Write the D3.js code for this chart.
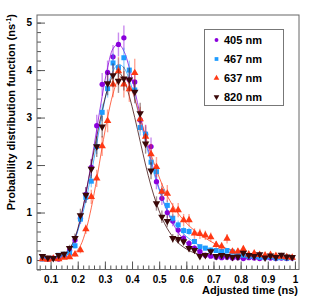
<!DOCTYPE html>
<meta charset="utf-8">
<script src="https://d3js.org/d3.v7.min.js"></script>
<style>
  body { margin: 0; background: white; }
  svg { font-family: "Liberation Sans", Arial, Helvetica, sans-serif; font-weight: bold; }
  .tick text { font-size: 10px; font-weight: bold; fill: black; }
  .tick line { stroke: #555; }
</style>
<div id="chart"></div>
<script>

// bin centres (ns)
var timeNs = [0.07,0.09,0.11,0.13,0.15,0.17,0.19,0.21,0.23,0.25,0.27,0.29,0.31,0.33,0.35,0.37,0.39,0.41,0.43,0.45,
  0.47,0.49,0.51,0.53,0.55,0.57,0.59,0.61,0.63,0.65,0.67,0.69,0.71,0.73,0.75,0.77,0.79,0.81,0.83,0.85,
  0.87,0.89,0.91,0.93,0.95,0.97,0.99];

var labels = ["405 nm", "467 nm", "637 nm", "820 nm"];

// measured points
var d405 = [0.03,0.02,0.04,0.02,0.08,0.20,0.42,0.88,1.38,1.95,2.83,3.70,3.95,4.28,4.54,4.68,3.80,3.75,2.95,2.65,
  2.39,1.65,1.30,1.00,0.82,0.63,0.46,0.35,0.25,0.18,0.10,0.08,0.06,0.05,0.06,0.04,0.05,0.03,0.05,0.04,
  0.03,0.05,0.04,0.03,0.04,0.03,0.04];
var d467 = [0.02,0.03,0.03,0.10,0.12,0.15,0.30,0.86,1.32,1.66,2.39,3.11,3.61,4.15,4.05,4.26,4.00,3.58,2.79,2.65,
  2.06,1.86,1.44,1.15,0.88,0.74,0.62,0.60,0.39,0.28,0.25,0.21,0.20,0.18,0.20,0.17,0.12,0.10,0.08,0.08,
  0.06,0.05,0.07,0.04,0.05,0.04,0.05];
var d637 = [0.02,0.01,0.03,0.02,0.05,0.06,0.12,0.21,0.65,1.33,1.72,2.40,2.93,3.70,3.98,3.70,3.60,3.94,2.97,2.60,
  2.23,1.96,1.44,1.40,1.05,1.05,0.84,0.84,0.56,0.55,0.52,0.48,0.32,0.29,0.45,0.18,0.18,0.23,0.12,0.14,
  0.11,0.10,0.11,0.09,0.07,0.06,0.05];
var d820 = [0.08,0.05,0.04,0.10,0.13,0.25,0.46,0.94,1.37,1.92,2.39,2.81,3.72,3.89,3.77,3.82,3.80,3.54,3.09,2.45,
  1.88,1.19,0.91,0.82,0.46,0.44,0.39,0.25,0.21,0.08,0.10,0.18,0.08,0.10,0.08,0.06,0.07,0.15,0.10,0.08,
  0.12,0.05,0.09,0.06,0.11,0.07,0.06];

// error bars
var e405 = [0.03,0.03,0.03,0.03,0.04,0.06,0.09,0.12,0.15,0.18,0.23,0.24,0.25,0.25,0.25,0.26,0.24,0.24,0.21,0.20,
  0.19,0.16,0.14,0.12,0.11,0.10,0.08,0.07,0.06,0.05,0.04,0.04,0.03,0.03,0.03,0.03,0.03,0.03,0.03,0.03,
  0.03,0.03,0.03,0.03,0.03,0.03,0.03];
var e467 = [0.02,0.02,0.02,0.02,0.03,0.04,0.06,0.09,0.11,0.13,0.16,0.18,0.19,0.20,0.20,0.21,0.20,0.19,0.17,0.16,
  0.15,0.14,0.12,0.11,0.09,0.09,0.08,0.08,0.06,0.05,0.05,0.05,0.04,0.04,0.04,0.04,0.03,0.03,0.03,0.03,
  0.03,0.03,0.03,0.03,0.03,0.03,0.03];
var e637 = [0.02,0.02,0.02,0.02,0.03,0.04,0.05,0.07,0.10,0.15,0.18,0.21,0.24,0.27,0.30,0.28,0.27,0.30,0.26,0.24,
  0.22,0.21,0.18,0.18,0.15,0.15,0.13,0.13,0.11,0.11,0.10,0.10,0.08,0.08,0.10,0.06,0.06,0.07,0.05,0.05,
  0.05,0.04,0.04,0.04,0.04,0.03,0.03];
var e820 = [0.04,0.03,0.03,0.04,0.05,0.07,0.10,0.14,0.17,0.20,0.22,0.23,0.25,0.25,0.25,0.25,0.25,0.24,0.22,0.21,
  0.18,0.15,0.13,0.12,0.09,0.09,0.08,0.07,0.06,0.04,0.04,0.06,0.04,0.04,0.04,0.03,0.04,0.05,0.04,0.04,
  0.05,0.03,0.04,0.03,0.04,0.03,0.03];

// fitted curves
var f405 = [0.02,0.02,0.03,0.05,0.10,0.22,0.45,0.85,1.40,2.05,2.75,3.45,4.05,4.45,4.55,4.40,4.05,3.58,3.05,2.55,
  2.10,1.70,1.32,1.02,0.78,0.58,0.43,0.32,0.24,0.17,0.13,0.10,0.08,0.06,0.05,0.05,0.04,0.04,0.04,0.03,
  0.03,0.03,0.03,0.03,0.03,0.03,0.03];
var f467 = [0.02,0.03,0.05,0.07,0.12,0.22,0.45,0.80,1.25,1.82,2.45,3.08,3.62,3.98,4.12,4.05,3.80,3.40,2.95,2.48,
  2.04,1.65,1.32,1.04,0.82,0.66,0.55,0.45,0.37,0.30,0.25,0.21,0.18,0.15,0.13,0.11,0.10,0.09,0.08,0.07,
  0.06,0.06,0.05,0.05,0.05,0.04,0.04];
var f637 = [0.01,0.02,0.03,0.04,0.06,0.09,0.15,0.30,0.62,1.10,1.70,2.38,3.00,3.50,3.80,3.85,3.70,3.40,3.00,2.60,
  2.22,1.90,1.60,1.35,1.15,0.98,0.84,0.72,0.62,0.53,0.46,0.39,0.33,0.28,0.24,0.20,0.17,0.14,0.12,0.10,
  0.09,0.08,0.07,0.06,0.06,0.05,0.05];
var f820 = [0.05,0.05,0.05,0.07,0.12,0.24,0.47,0.88,1.40,2.00,2.60,3.15,3.60,3.88,3.95,3.80,3.45,3.00,2.50,2.00,
  1.56,1.19,0.89,0.66,0.49,0.36,0.27,0.20,0.15,0.12,0.10,0.09,0.08,0.08,0.07,0.07,0.07,0.07,0.07,0.07,
  0.07,0.07,0.07,0.07,0.07,0.07,0.07];

var colors = ["#8a00dc", "#1e9cff", "#ff3814", "#3a0808"];
var shapes = [d3.symbolCircle, d3.symbolSquare, d3.symbolTriangle, d3.symbolTriangle];
var sizes = [22, 25, 24, 24];

var series = [
  {vals: d405, err: e405, fit: f405},
  {vals: d467, err: e467, fit: f467},
  {vals: d637, err: e637, fit: f637},
  {vals: d820, err: e820, fit: f820}
];

var W = 315, H = 302;
var frame = {left: 37, right: 299, top: 15, bottom: 269.5};

var svg = d3.select("#chart").append("svg")
  .attr("width", W)
  .attr("height", H);

var x = d3.scaleLinear().domain([0.05, 1.015]).range([frame.left, frame.right]);
var y = d3.scaleLinear().domain([-0.2, 5.16]).range([frame.bottom, frame.top]);

// minor ticks
svg.append("g")
  .attr("transform", "translate(0," + frame.bottom + ")")
  .call(d3.axisBottom(x).tickValues(d3.range(0.06, 1.015, 0.02)).tickSize(-4).tickSizeOuter(0).tickFormat(""))
  .call(function(g) { g.select(".domain").remove(); });
svg.append("g")
  .attr("transform", "translate(" + frame.left + ",0)")
  .call(d3.axisLeft(y).tickValues(d3.range(-0.2, 5.16, 0.2)).tickSize(-4).tickSizeOuter(0).tickFormat(""))
  .call(function(g) { g.select(".domain").remove(); });

// major ticks + labels
svg.append("g")
  .attr("transform", "translate(0," + frame.bottom + ")")
  .call(d3.axisBottom(x).tickValues([0.1,0.2,0.3,0.4,0.5,0.6,0.7,0.8,0.9,1]).tickSize(-8).tickPadding(6)
    .tickFormat(function(d) { return d == 1 ? "1" : d3.format(".1f")(d); }))
  .call(function(g) { g.select(".domain").remove(); });
svg.append("g")
  .attr("transform", "translate(" + frame.left + ",0)")
  .call(d3.axisLeft(y).tickValues([0,1,2,3,4,5]).tickSize(-8).tickPadding(5).tickFormat(d3.format("d")))
  .call(function(g) { g.select(".domain").remove(); });

svg.append("rect")
  .attr("x", frame.left).attr("y", frame.top)
  .attr("width", frame.right - frame.left).attr("height", frame.bottom - frame.top)
  .attr("fill", "none").attr("stroke", "#666");

var plot = svg.append("g");

var line = d3.line()
  .x(function(d, i) { return x(timeNs[i]); })
  .y(function(d) { return y(d); })
  .curve(d3.curveCatmullRom);

series.forEach(function(s, k) {
  plot.append("path")
    .datum(s.fit)
    .attr("d", line)
    .attr("fill", "none")
    .attr("stroke", colors[k])
    .attr("stroke-width", 0.9)
    .attr("opacity", 0.85);
});

series.forEach(function(s, k) {
  var g = plot.append("g");
  g.selectAll("line")
    .data(s.vals)
    .enter().append("line")
    .attr("x1", function(d, i) { return x(timeNs[i]); })
    .attr("x2", function(d, i) { return x(timeNs[i]); })
    .attr("y1", function(d, i) { return y(d - s.err[i]); })
    .attr("y2", function(d, i) { return y(d + s.err[i]); })
    .attr("stroke", colors[k])
    .attr("stroke-width", 1.4)
    .attr("opacity", 0.45);
  g.selectAll("path")
    .data(s.vals)
    .enter().append("path")
    .attr("d", d3.symbol().type(shapes[k]).size(sizes[k]))
    .attr("transform", function(d, i) {
      return "translate(" + x(timeNs[i]) + "," + y(d) + ")" + (k == 3 ? " rotate(180)" : "");
    })
    .attr("fill", colors[k]);
});

// legend
var leg = svg.append("g");
leg.append("rect")
  .attr("x", 204.5).attr("y", 29.5).attr("width", 79).attr("height", 76)
  .attr("fill", "white").attr("stroke", "#777");
labels.forEach(function(t, k) {
  var yy = 40 + k * 19;
  leg.append("path")
    .attr("d", d3.symbol().type(shapes[k]).size(k == 0 ? 12 : 14))
    .attr("transform", "translate(216.5," + yy + ")" + (k == 3 ? " rotate(180)" : ""))
    .attr("fill", colors[k]);
  leg.append("text")
    .attr("x", 224).attr("y", yy + 4)
    .attr("font-size", "11px")
    .text(t);
});

// axis titles
svg.append("text")
  .attr("x", 298).attr("y", 293.5)
  .attr("text-anchor", "end")
  .attr("font-size", "11px")
  .text("Adjusted time (ns)");

var yt = svg.append("text")
  .attr("transform", "translate(15,14) rotate(-90)")
  .attr("text-anchor", "end")
  .attr("font-size", "11px");
yt.append("tspan").text("Probability distribution function (ns");
yt.append("tspan").attr("font-size", "7px").attr("dy", -4).text("-1");
yt.append("tspan").attr("dy", 4).text(")");

</script>
